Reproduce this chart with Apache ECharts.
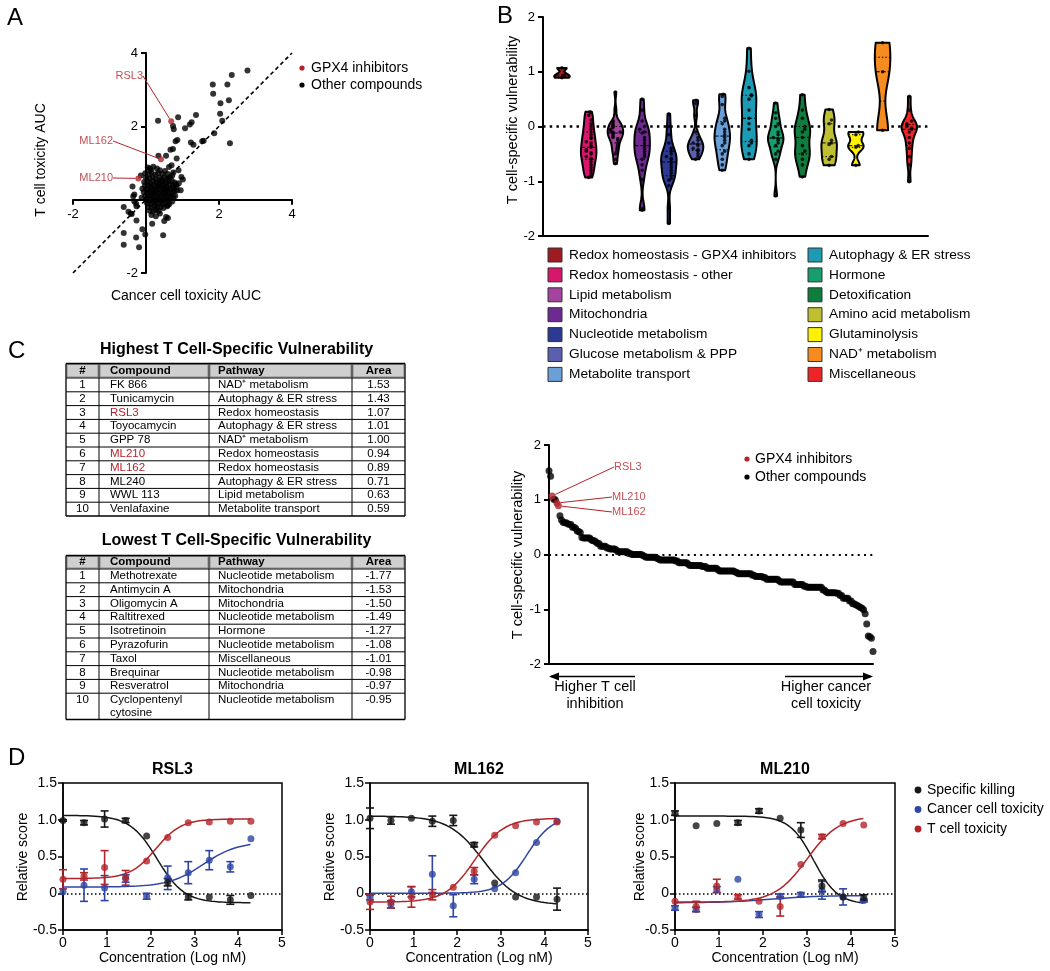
<!DOCTYPE html>
<html><head><meta charset="utf-8">
<script src="https://cdn.jsdelivr.net/npm/echarts@6/dist/echarts.min.js"></script>
<style>html,body{margin:0;padding:0;background:#fff}#c{width:1050px;height:971px}</style>
</head><body><div id="c"></div>
<script>
const FONT = "'Liberation Sans', Arial, Helvetica, sans-serif";
const RED = '#B3232B';

// ---------------- Panel A data ----------------
const aOther = [
 [2.78,3.52],[2.35,3.40],[1.83,3.14],[2.23,3.14],[1.84,2.89],[2.27,2.71],[2.04,2.63],[2.03,2.34],[2.09,2.15],[2.30,1.54],[1.87,1.81],[1.58,1.61],[1.54,1.59],
 [1.37,2.31],[1.25,2.11],[1.20,2.05],[1.07,1.95],[0.88,2.25],[0.74,2.01],[0.76,1.92],[0.33,2.15],
 [1.23,1.56],[1.30,1.50],[0.86,1.63],[0.81,1.59],[0.74,1.38],[0.67,1.36],[0.55,1.20],[0.34,1.20],[0.84,1.12],[0.70,0.94],[0.63,0.89],
 [0.97,0.62],[1.01,0.55],[0.89,0.80],[0.75,0.74],[0.11,0.85],[-0.14,0.66],[-0.37,0.36],[-0.32,0.14],[-0.35,0.09],
 [-0.61,-0.20],[-0.48,-0.33],[-0.32,-0.05],[-0.26,-0.18],[-0.39,-0.39],[-0.42,-0.38],[-0.27,-0.11],[-0.26,-0.57],
 [-0.61,-0.91],[-0.61,-1.23],[-0.27,-1.03],[-0.19,-1.30],[-0.10,-0.81],[-0.02,-0.95],[0.15,-0.42],[0.17,-0.66],[0.27,-0.45],[0.47,-0.97],[0.50,-0.58],[0.55,-0.47],[0.60,-0.50],[0.38,-0.38],
 [0.58,-0.18],[0.64,-0.12],[0.75,0.07],[0.95,0.26],[0.84,0.35],[0.78,0.23],[0.85,0.25],[0.90,0.45],[0.80,0.10],[-0.10,0.30],[-0.12,0.05],[0.72,-0.05],[0.60,-0.15],
 [0.05,0.88],[0.12,0.82],[0.20,0.90],[0.30,0.85],[0.38,0.80],
 [-0.02,0.72],[0.08,0.70],[0.15,0.75],[0.25,0.68],[0.33,0.72],[0.45,0.70],[0.52,0.78],[0.60,0.70],
 [0.00,0.60],[0.10,0.58],[0.18,0.62],[0.27,0.55],[0.36,0.60],[0.42,0.55],[0.50,0.62],[0.58,0.58],[0.66,0.62],[0.72,0.66],
 [-0.05,0.48],[0.04,0.50],[0.12,0.45],[0.20,0.50],[0.30,0.47],[0.38,0.45],[0.46,0.50],[0.55,0.46],[0.62,0.50],[0.70,0.52],[0.78,0.47],
 [-0.03,0.38],[0.06,0.40],[0.14,0.36],[0.22,0.40],[0.28,0.35],[0.35,0.40],[0.43,0.37],[0.50,0.40],[0.57,0.35],[0.65,0.42],[0.73,0.38],[0.82,0.42],
 [0.00,0.30],[0.08,0.27],[0.16,0.30],[0.24,0.26],[0.32,0.30],[0.40,0.27],[0.47,0.31],[0.54,0.26],[0.60,0.30],[0.68,0.28],[0.76,0.32],
 [-0.06,0.20],[0.03,0.18],[0.11,0.21],[0.19,0.17],[0.27,0.20],[0.34,0.16],[0.42,0.20],[0.50,0.18],[0.57,0.22],[0.64,0.17],[0.71,0.20],
 [-0.02,0.10],[0.07,0.08],[0.15,0.12],[0.22,0.07],[0.30,0.10],[0.38,0.08],[0.45,0.12],[0.53,0.08],[0.60,0.10],[0.67,0.06],
 [0.00,0.00],[0.09,-0.02],[0.17,0.02],[0.25,-0.03],[0.33,0.01],[0.41,-0.02],[0.49,0.02],[0.56,-0.03],[0.63,0.00],
 [0.03,-0.10],[0.12,-0.12],[0.20,-0.08],[0.28,-0.12],[0.36,-0.09],[0.44,-0.12],[0.52,-0.10],
 [0.06,-0.20],[0.15,-0.22],[0.23,-0.18],[0.31,-0.22],[0.40,-0.20],[0.48,-0.23],
 [0.10,-0.30],[0.19,-0.32],[0.27,-0.28],[0.35,-0.31]
];
const gpx4Names = ['RSL3', 'ML210', 'ML162'];
const aGpx4 = [[0.69, 2.14], [-0.21, 0.58], [0.41, 1.10]];
const aIdentity = [-2, 4];

// ---------------- Panel B data ----------------
const violinCats = ['Redox homeostasis - GPX4 inhibitors','Redox homeostasis - other','Lipid metabolism','Mitochondria','Nucleotide metabolism','Glucose metabolism & PPP','Metabolite transport','Autophagy & ER stress','Hormone','Detoxification','Amino acid metabolism','Glutaminolysis','NAD\u207A metabolism','Miscellaneous'];
const violinColors = ['#9E1B22','#D6176B','#A3449E','#6F2A91','#2C3A93','#5A60AE','#6A9FD8','#1D9BB5','#189E6C','#0F7D3D','#BFBF32','#FFF100','#F68B20','#EE2528'];
const vGpx4 = [1.07, 0.94, 0.89];
const vRedoxOther = [0.27,0.25,0.2,0.12,0.05,0.0,-0.05,-0.1,-0.15,-0.2,-0.22,-0.28,-0.3,-0.35,-0.38,-0.42,-0.45,-0.48,-0.5,-0.55,-0.58,-0.6,-0.65,-0.7,-0.75,-0.8,-0.85,-0.9,-0.93];
const vLipid = [0.63,0.3,0.1,0.08,0.05,0.02,0.0,-0.02,-0.05,-0.08,-0.1,-0.1,-0.12,-0.15,-0.18,-0.2,-0.22,-0.25,-0.3,-0.35,-0.4,-0.45,-0.5,-0.6,-0.68];
const vMito = [0.5,0.3,0.1,0.0,-0.05,-0.1,-0.12,-0.2,-0.25,-0.3,-0.35,-0.4,-0.45,-0.5,-0.55,-0.6,-0.7,-0.8,-0.97,-1.5,-1.53];
const vNucleotide = [0.23,0.0,-0.15,-0.3,-0.4,-0.45,-0.5,-0.55,-0.58,-0.6,-0.65,-0.7,-0.75,-0.8,-0.85,-0.9,-0.95,-0.98,-1.08,-1.49,-1.77];
const vGlucose = [0.48,0.42,0.2,-0.1,-0.2,-0.25,-0.3,-0.32,-0.35,-0.4,-0.42,-0.45,-0.5,-0.55,-0.6];
const vTransport = [0.59,0.55,0.4,0.15,0.1,0.05,-0.05,-0.1,-0.15,-0.2,-0.25,-0.3,-0.35,-0.45,-0.5,-0.6,-0.7,-0.8];
const vAutophagy = [1.43,1.01,0.71,0.58,0.56,0.5,0.3,0.15,0.05,-0.05,-0.25,-0.3,-0.35,-0.5,-0.6];
const vHormone = [0.43,0.25,0.15,0.05,0.0,-0.1,-0.15,-0.2,-0.22,-0.25,-0.3,-0.35,-0.45,-0.5,-0.6,-1.27];
const vDetox = [0.58,0.3,0.15,0.0,-0.05,-0.1,-0.2,-0.35,-0.45,-0.5,-0.6,-0.7,-0.92];
const vAmino = [0.31,0.12,0.05,-0.25,-0.3,-0.33,-0.55,-0.6,-0.71];
const vGlutamine = [-0.1,-0.15,-0.35,-0.38,-0.71];
const vNad = [1.53,1.00,-0.07];
const vMisc = [0.55,0.3,0.1,0.05,0.02,0.0,-0.03,-0.05,-0.1,-0.2,-0.3,-0.4,-0.55,-0.7,-1.01];
const violinValues = [vGpx4,vRedoxOther,vLipid,vMito,vNucleotide,vGlucose,vTransport,vAutophagy,vHormone,vDetox,vAmino,vGlutamine,vNad,vMisc];
const vulnTicks = [-2, -1, 0, 1, 2];

// ---------------- Panel C tables ----------------
const topRank = [1,2,3,4,5,6,7,8,9,10];
const topCompound = ['FK 866','Tunicamycin','RSL3','Toyocamycin','GPP 78','ML210','ML162','ML240','WWL 113','Venlafaxine'];
const topPathway = ['NAD\u207A metabolism','Autophagy & ER stress','Redox homeostasis','Autophagy & ER stress','NAD\u207A metabolism','Redox homeostasis','Redox homeostasis','Autophagy & ER stress','Lipid metabolism','Metabolite transport'];
const topArea = [1.53,1.43,1.07,1.01,1.00,0.94,0.89,0.71,0.63,0.59];
const lowRank = [1,2,3,4,5,6,7,8,9,10];
const lowCompound = ['Methotrexate','Antimycin A','Oligomycin A','Raltitrexed','Isotretinoin','Pyrazofurin','Taxol','Brequinar','Resveratrol','Cyclopentenyl\ncytosine'];
const lowPathway = ['Nucleotide metabolism','Mitochondria','Mitochondria','Nucleotide metabolism','Hormone','Nucleotide metabolism','Miscellaneous','Nucleotide metabolism','Mitochondria','Nucleotide metabolism'];
const lowArea = [-1.77,-1.53,-1.50,-1.49,-1.27,-1.08,-1.01,-0.98,-0.97,-0.95];
const tableHeader = ['#','Compound','Pathway','Area'];

// ---------------- Panel D data ----------------
const concLog = [0, 0.48, 0.95, 1.43, 1.91, 2.39, 2.86, 3.34, 3.82, 4.29];
const rsl3Kill = [0.99,0.96,1.01,0.99,0.78,0.15,-0.05,-0.05,-0.09,-0.03];
const rsl3KillErr = [0.01,0.03,0.11,0.03,0,0.05,0.04,0,0.06,0];
const rsl3Cancer = [0.02,0.11,0.07,0.20,-0.04,0.21,0.28,0.45,0.36,0.74];
const rsl3CancerErr = [0,0.22,0.17,0.05,0.04,0.16,0.15,0.13,0.07,0];
const rsl3Tcell = [0.19,0.23,0.35,0.21,0.44,0.76,0.96,0.97,0.98,0.98];
const rsl3TcellErr = [0.13,0.05,0.23,0.1,0,0,0,0,0,0];
const ml162Kill = [1.02,0.99,1.02,0.98,0.99,0.66,0.14,-0.05,-0.05,-0.08];
const ml162KillErr = [0.14,0.05,0,0.07,0.07,0.03,0,0,0,0.15];
const ml162Cancer = [-0.06,-0.15,0.02,0.26,-0.17,0.19,0.06,0.28,0.69,0.98];
const ml162CancerErr = [0.03,0.05,0.07,0.25,0.15,0.06,0,0,0,0];
const ml162Tcell = [-0.12,-0.12,-0.05,-0.02,0.08,0.30,0.79,0.92,0.97,0.97];
const ml162TcellErr = [0.1,0.08,0.14,0.07,0,0.05,0,0,0,0];
const ml210Kill = [1.09,0.92,0.95,0.96,1.12,1.02,0.86,0.10,-0.05,-0.06];
const ml210KillErr = [0.03,0,0,0.03,0.03,0,0.1,0.08,0,0.04];
const ml210Cancer = [-0.20,-0.22,0.05,0.19,-0.29,-0.04,-0.02,0.04,-0.05,-0.10];
const ml210CancerErr = [0.03,0.03,0.04,0,0.04,0.03,0.03,0.12,0.11,0.02];
const ml210Tcell = [-0.11,-0.18,0.10,-0.05,-0.11,-0.18,0.39,0.77,0.95,0.93];
const ml210TcellErr = [0,0.07,0.09,0.03,0,0.13,0,0.03,0,0];
// fitted curve parameters: [low-dose plateau, high-dose plateau, logEC50, hill]
const rsl3Fit = {kill:[1.06,-0.13,2.15,1.4], cancer:[0.085,0.70,3.2,1.1], tcell:[0.20,1.01,2.12,1.5]};
const ml162Fit = {kill:[1.05,-0.16,2.6,1.1], cancer:[0.0,1.05,3.6,1.5], tcell:[-0.12,1.02,2.4,1.3]};
const ml210Fit = {kill:[1.05,-0.15,3.15,1.6], cancer:[-0.13,-0.03,2.2,0.8], tcell:[-0.12,1.05,3.0,1.2]};
const dCompounds = ['RSL3','ML162','ML210'];
const dSeriesNames = ['Specific killing','Cancer cell toxicity','T cell toxicity'];
const dColors = ['#161616','#2F45A3','#B3242A'];

// ================= helpers =================
function quantile(s, p){ const idx=(s.length-1)*p, lo=Math.floor(idx), hi=Math.ceil(idx); return s[lo]+(s[hi]-s[lo])*(idx-lo); }
function bandwidth(vals){
  const n=vals.length, m=vals.reduce((a,b)=>a+b,0)/n;
  const sd=Math.sqrt(vals.reduce((a,b)=>a+(b-m)*(b-m),0)/(n-1));
  const s=[...vals].sort((a,b)=>a-b); const iqr=quantile(s,0.75)-quantile(s,0.25);
  let spread=Math.min(sd, iqr/1.34); if(!(spread>0)) spread=sd;
  return Math.max(0.04, 0.75*0.9*spread*Math.pow(n,-0.2));
}
function density(vals,h,y){ let t=0; for(const v of vals){ const z=(y-v)/h; t+=Math.exp(-0.5*z*z);} return t; }
const VW = 0.29;
const violinShapes = violinValues.map(arr => {
  const s=[...arr].sort((a,b)=>a-b), lo=s[0], hi=s[s.length-1], h=bandwidth(arr);
  const steps=70, ys=[], ds=[];
  for(let k=0;k<=steps;k++){ const y=lo+(hi-lo)*k/steps; ys.push(y); ds.push(density(arr,h,y)); }
  const mx=Math.max(...ds);
  const wAt = y => VW*density(arr,h,y)/mx;
  const right=ys.map((y,k)=>[VW*ds[k]/mx,y]);
  const left=ys.map((y,k)=>[-VW*ds[k]/mx,y]).reverse();
  const med=quantile(s,0.5), q1=quantile(s,0.25), q3=quantile(s,0.75);
  return {poly:right.concat(left), wAt, lines:[{y:med,w:wAt(med),dash:[4,2]},{y:q1,w:wAt(q1),dash:[1.5,2]},{y:q3,w:wAt(q3),dash:[1.5,2]}]};
});
const violinDots = [];
violinValues.forEach((arr,ci)=>{
  const sorted=[...arr].sort((a,b)=>a-b), placed=[], pattern=[0,1,-1,2,-2,3,-3];
  sorted.forEach(v=>{
    const k=placed.filter(u=>Math.abs(u-v)<0.07).length; placed.push(v);
    let off=pattern[k%pattern.length]*0.09;
    const lim=Math.max(0, violinShapes[ci].wAt(v)-0.07);
    off=Math.max(-lim, Math.min(lim, off));
    violinDots.push([ci+off, v]);
  });
});

// waterfall built from all compounds
const wfAll=[];
violinValues.forEach((arr,ci)=>arr.forEach((v,j)=>wfAll.push({v, gpx:ci===0, name:ci===0?gpx4Names[j]:''})));
wfAll.sort((a,b)=>b.v-a.v);
const wfOther=[], wfGpx=[];
wfAll.forEach((d,r)=>{ if(d.gpx) wfGpx.push({value:[r,d.v], name:d.name}); else wfOther.push([r,d.v]); });
const N = wfAll.length;

function fourPL(p,x){ const [lo,hi,c,h]=p; return hi+(lo-hi)/(1+Math.pow(10,(x-c)*h)); }
function curve(p){ const out=[]; const x0=concLog[0], x1=concLog[concLog.length-1]; for(let x=x0;x<=x1+1e-9;x+=0.04) out.push([x,fourPL(p,x)]); out.push([x1,fourPL(p,x1)]); return out; }

// ================= graphics helpers =================
const G=[];
function txt(t,x,y,size,o){ o=o||{}; G.push({type:'text', x, y, rotation:o.rot||0, silent:true, z:100,
  style:{text:t, x:0, y:0, fill:o.color||'#000', font:(o.bold?'bold ':'')+size+'px '+FONT, align:o.align||'left', verticalAlign:o.va||'middle'}}); }
function rect(x,y,w,h,fill,stroke,lw){ G.push({type:'rect', silent:true, z:99, shape:{x,y,width:w,height:h}, style:{fill, stroke:stroke||null, lineWidth:lw||0}}); }
function line(x1,y1,x2,y2,lw,color){ G.push({type:'line', silent:true, z:100, shape:{x1,y1,x2,y2}, style:{stroke:color||'#000', lineWidth:lw||1}}); }
function dot(cx,cy,r,fill){ G.push({type:'circle', silent:true, z:100, shape:{cx,cy,r}, style:{fill}}); }
function poly(points,fill){ G.push({type:'polygon', silent:true, z:100, shape:{points}, style:{fill}}); }

// panel letters
txt('A',7,18,24); txt('B',497,16,24); txt('C',8,351,24); txt('D',8,758,24);
// Panel A titles & legend
txt('T cell toxicity AUC',41,160,14,{rot:Math.PI/2,align:'center'});
txt('Cancer cell toxicity AUC',186,296,14,{align:'center'});
dot(302,68,2.6,RED); txt('GPX4 inhibitors',311,68,14);
dot(302,85,2.6,'#000'); txt('Other compounds',311,85,14);
// Panel B
txt('T cell-specific vulnerability',513,120,14.5,{rot:Math.PI/2,align:'center'});
violinCats.forEach((c,i)=>{
  const col=i<7?0:1, row=i%7; const y=255+row*19.9;
  const sx=col===0?548:808, tx=col===0?569:829;
  rect(sx,y-7,14,14,violinColors[i],'#333',1);
  txt(c,tx,y,13.7);
});
// Panel C tables
function drawTable(title,titleY,top,headerH,rowHs,cols,ranks,names,paths,areas){
  const left=cols[0], right=cols[cols.length-1];
  txt(title,(left+right)/2+1,titleY,16,{bold:true,align:'center'});
  const bottom=top+headerH+rowHs.reduce((a,b)=>a+b,0);
  for(let c=0;c<4;c++) rect(cols[c]+1,top+1,cols[c+1]-cols[c]-2,headerH-2,'#CFCFCF','#8a8a8a',1);
  const hy=top+headerH/2;
  txt(tableHeader[0],(cols[0]+cols[1])/2,hy,11.5,{bold:true,align:'center'});
  txt(tableHeader[1],cols[1]+11,hy,11.5,{bold:true});
  txt(tableHeader[2],cols[2]+9,hy,11.5,{bold:true});
  txt(tableHeader[3],(cols[3]+cols[4])/2,hy,11.5,{bold:true,align:'center'});
  let y=top+headerH;
  line(left,top,right,top,1.3); line(left,y,right,y,1);
  ranks.forEach((r,i)=>{
    const my=y+6.9;
    txt(String(r),(cols[0]+cols[1])/2,my,11.5,{align:'center'});
    const isG=gpx4Names.indexOf(names[i])>=0;
    names[i].split('\n').forEach((ln,k)=>txt(ln,cols[1]+11,my+k*12.6,11.5,{color:isG?RED:'#000'}));
    txt(paths[i],cols[2]+9,my,11.5);
    txt(areas[i].toFixed(2),(cols[3]+cols[4])/2,my,11.5,{align:'center'});
    y+=rowHs[i];
    line(left,y,right,y,i===ranks.length-1?1.3:1);
  });
  cols.forEach((x,k)=>line(x,top,x,bottom,(k===0||k===cols.length-1)?1.3:1));
}
const cols=[66,99,209,352,405];
drawTable('Highest T Cell-Specific Vulnerability',350,363.5,14.5,topRank.map(()=>13.8),cols,topRank,topCompound,topPathway,topArea);
drawTable('Lowest T Cell-Specific Vulnerability',541,555.5,13.5,lowRank.map((r,i)=>i===9?26.3:13.8),cols,lowRank,lowCompound,lowPathway,lowArea);
// waterfall annotations
txt('T cell-specific vulnerability',518,555,14.5,{rot:Math.PI/2,align:'center'});
dot(747,459,2.6,RED); txt('GPX4 inhibitors',755,459,14);
dot(747,477,2.6,'#000'); txt('Other compounds',755,477,14);
line(551,676.5,635,676.5,1.3); poly([[549,676.5],[559,672.5],[559,680.5]],'#000');
line(785,676.5,871,676.5,1.3); poly([[873,676.5],[863,672.5],[863,680.5]],'#000');
txt('Higher T cell',595,687,14.5,{align:'center'}); txt('inhibition',595,704,14.5,{align:'center'});
txt('Higher cancer',826,687,14.5,{align:'center'}); txt('cell toxicity',826,704,14.5,{align:'center'});
// Panel D titles, axes names, legend
const dGrids=[{left:63,width:219,yt:23},{left:370,width:218,yt:330},{left:675,width:220,yt:640}];
dGrids.forEach((g,k)=>{
  txt(dCompounds[k],g.left+g.width/2,769.5,16,{bold:true,align:'center'});
  txt('Concentration (Log nM)',g.left+g.width/2,958,14,{align:'center'});
  txt('Relative score',g.yt,857,14,{rot:Math.PI/2,align:'center'});
});
dSeriesNames.forEach((n,i)=>{ const y=790+i*19.5; dot(918,y,3.4,dColors[i]); txt(n,927,y,14); });

// ================= ECharts option =================
const axLab = (size,extra)=>Object.assign({color:'#000',fontSize:size,fontFamily:FONT},extra||{});
const axLine = (w,onZero)=>({onZero:!!onZero, lineStyle:{color:'#000',width:w}});
const axTick = (w)=>({show:true,length:5,lineStyle:{color:'#000',width:w}});
const gridBase = {containLabel:false, outerBoundsMode:'none'};
// Panel A grid geometry (axes cross at the origin)
const aGrid = {left:73,top:53,width:219,height:220};
const aXmin=-2, aXmax=4, aYmin=-2, aYmax=4;
const aXOffset = -(aGrid.height*(0-aYmin)/(aYmax-aYmin));   // move x-axis up to y=0
const aYOffset = -(aGrid.width*(0-aXmin)/(aXmax-aXmin));    // move y-axis right to x=0
const grids=[
  Object.assign({},aGrid,gridBase),
  Object.assign({left:543,top:17,width:385,height:219},gridBase),
  Object.assign({left:549,top:445,width:324,height:219},gridBase)
];
dGrids.forEach(g=>grids.push(Object.assign({left:g.left,top:783,width:g.width,height:147,show:true,borderColor:'#000',borderWidth:1.5,backgroundColor:'transparent'},gridBase)));

const hideZero = v => v===0?'':String(v);
const xAxes=[
  {gridIndex:0,type:'value',position:'bottom',offset:aXOffset,min:aXmin,max:aXmax,interval:2,axisLine:axLine(2,false),axisTick:axTick(2),axisLabel:axLab(13,{formatter:hideZero}),splitLine:{show:false}},
  {gridIndex:1,type:'value',min:-0.71,max:13.7,axisLine:axLine(2,false),axisTick:{show:false},axisLabel:{show:false},splitLine:{show:false}},
  {gridIndex:2,type:'value',min:0,max:N-1,axisLine:axLine(2,false),axisTick:{show:false},axisLabel:{show:false},splitLine:{show:false}}
];
const yAxes=[
  {gridIndex:0,type:'value',position:'left',offset:aYOffset,min:aYmin,max:aYmax,interval:2,axisLine:axLine(2,false),axisTick:axTick(2),axisLabel:axLab(13,{formatter:hideZero}),splitLine:{show:false}},
  {gridIndex:1,type:'value',min:vulnTicks[0],max:vulnTicks[vulnTicks.length-1],interval:1,axisLine:axLine(2,false),axisTick:axTick(2),axisLabel:axLab(13),splitLine:{show:false}},
  {gridIndex:2,type:'value',min:vulnTicks[0],max:vulnTicks[vulnTicks.length-1],interval:1,axisLine:axLine(2,false),axisTick:axTick(2),axisLabel:axLab(13),splitLine:{show:false}}
];
dGrids.forEach((g,k)=>{
  xAxes.push({gridIndex:3+k,type:'value',min:0,max:5,interval:1,axisLine:axLine(1.5,false),axisTick:axTick(1.5),axisLabel:axLab(14,{margin:6}),splitLine:{show:false}});
  yAxes.push({gridIndex:3+k,type:'value',min:-0.5,max:1.5,interval:0.5,axisLine:axLine(1.5,false),axisTick:axTick(1.5),axisLabel:axLab(14,{margin:6,formatter:v=>v===0?'0':v.toFixed(1)}),splitLine:{show:false}});
});

const zeroMark=(dash,w)=>({silent:true,symbol:['none','none'],label:{show:false},animation:false,lineStyle:{color:'#000',type:dash,width:w},data:[{yAxis:0}]});

const aLabelPos=[[143,76],[113,178],[113,141]];
const wfLabelPos={RSL3:[614,467],ML210:[612,497],ML162:[612,512]};

const series=[
  {type:'line',xAxisIndex:0,yAxisIndex:0,data:aIdentity.map(v=>[v,v]),symbol:'none',silent:true,lineStyle:{color:'#000',width:1.6,type:[4,3]},z:2},
  {type:'scatter',xAxisIndex:0,yAxisIndex:0,data:aOther,symbolSize:6,itemStyle:{color:'#000'},silent:true,z:3},
  {type:'scatter',xAxisIndex:0,yAxisIndex:0,data:aGpx4.map((p,i)=>({value:p,name:gpx4Names[i]})),symbolSize:6,itemStyle:{color:RED},z:4,silent:true,
    label:{show:true,formatter:'{b}',color:RED,fontSize:11,fontFamily:FONT},
    labelLine:{show:true,lineStyle:{color:RED,width:1}},
    labelLayout:p=>{const q=aLabelPos[p.dataIndex];return {x:q[0],y:q[1],align:'right',verticalAlign:'middle'};}},
  // Panel B
  {type:'scatter',xAxisIndex:1,yAxisIndex:1,data:[],silent:true,markLine:zeroMark([2.5,4.2],2.5),z:1},
  {type:'custom',xAxisIndex:1,yAxisIndex:1,silent:true,z:10,data:violinCats.map((c,i)=>[i,0]),
    renderItem:(params,api)=>{
      const k=api.value(0), shp=violinShapes[k];
      const ch=[{type:'polygon',shape:{points:shp.poly.map(p=>api.coord([k+p[0],p[1]]))},style:{fill:violinColors[k],stroke:'#000',lineWidth:2,lineJoin:'round'}}];
      shp.lines.forEach(q=>{const a=api.coord([k-q.w,q.y]), b=api.coord([k+q.w,q.y]);
        ch.push({type:'line',shape:{x1:a[0],y1:a[1],x2:b[0],y2:b[1]},style:{stroke:'#000',lineWidth:1,lineDash:q.dash}});});
      return {type:'group',children:ch};
    }},
  {type:'scatter',xAxisIndex:1,yAxisIndex:1,data:violinDots,symbolSize:3.6,itemStyle:{color:'#000'},silent:true,z:11},
  // waterfall
  {type:'scatter',xAxisIndex:2,yAxisIndex:2,data:wfOther,symbolSize:7,itemStyle:{color:'#000'},silent:true,z:10,markLine:zeroMark([2,4.3],2)},
  {type:'scatter',xAxisIndex:2,yAxisIndex:2,data:wfGpx,symbolSize:7,itemStyle:{color:RED},silent:true,z:11,
    label:{show:true,formatter:'{b}',color:RED,fontSize:11,fontFamily:FONT},
    labelLine:{show:true,lineStyle:{color:RED,width:1}},
    labelLayout:p=>{const q=wfLabelPos[wfGpx[p.dataIndex].name];return {x:q[0],y:q[1],align:'left',verticalAlign:'middle'};}}
];

const dData=[
  {vals:[rsl3Kill,rsl3Cancer,rsl3Tcell],errs:[rsl3KillErr,rsl3CancerErr,rsl3TcellErr],fit:[rsl3Fit.kill,rsl3Fit.cancer,rsl3Fit.tcell]},
  {vals:[ml162Kill,ml162Cancer,ml162Tcell],errs:[ml162KillErr,ml162CancerErr,ml162TcellErr],fit:[ml162Fit.kill,ml162Fit.cancer,ml162Fit.tcell]},
  {vals:[ml210Kill,ml210Cancer,ml210Tcell],errs:[ml210KillErr,ml210CancerErr,ml210TcellErr],fit:[ml210Fit.kill,ml210Fit.cancer,ml210Fit.tcell]}
];
function errRender(color){
  return (params,api)=>{
    const x=api.value(0), y=api.value(1), e=api.value(2);
    if(!(e>0)) return null;
    const t=api.coord([x,y+e]), b=api.coord([x,y-e]), cw=4;
    const st={stroke:color,lineWidth:1.6};
    return {type:'group',children:[
      {type:'line',shape:{x1:t[0],y1:t[1],x2:b[0],y2:b[1]},style:st},
      {type:'line',shape:{x1:t[0]-cw,y1:t[1],x2:t[0]+cw,y2:t[1]},style:st},
      {type:'line',shape:{x1:b[0]-cw,y1:b[1],x2:b[0]+cw,y2:b[1]},style:st}]};
  };
}
dData.forEach((d,k)=>{
  const ax=3+k;
  series.push({type:'scatter',xAxisIndex:ax,yAxisIndex:ax,data:[],silent:true,z:1,markLine:zeroMark([1.5,2.5],1.5)});
  [0,1,2].forEach(s=>{
    series.push({type:'line',xAxisIndex:ax,yAxisIndex:ax,data:curve(d.fit[s]),symbol:'none',silent:true,lineStyle:{color:dColors[s],width:1.5},z:10});
  });
  [1,2,0].forEach(s=>{
    series.push({type:'custom',xAxisIndex:ax,yAxisIndex:ax,silent:true,z:12,data:concLog.map((x,i)=>[x,d.vals[s][i],d.errs[s][i]]),renderItem:errRender(dColors[s])});
    series.push({type:'scatter',xAxisIndex:ax,yAxisIndex:ax,silent:true,z:13,symbolSize:7,itemStyle:{color:dColors[s]},data:concLog.map((x,i)=>[x,d.vals[s][i]])});
  });
});

const chart=echarts.init(document.getElementById('c'),null,{renderer:'canvas',width:1050,height:971});
chart.setOption({animation:false,backgroundColor:'#fff',textStyle:{fontFamily:FONT},grid:grids,xAxis:xAxes,yAxis:yAxes,series,graphic:G});
</script></body></html>
